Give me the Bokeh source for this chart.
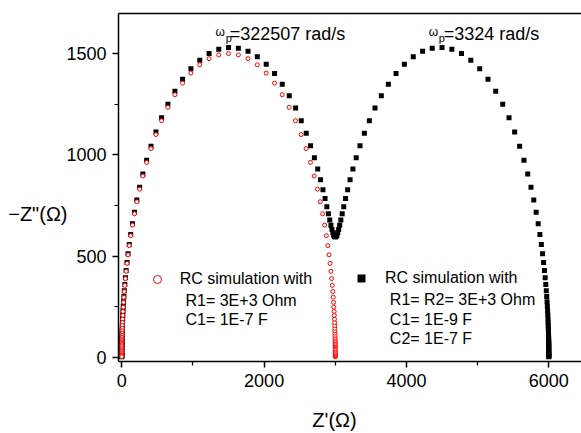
from bokeh.plotting import figure
from bokeh.models import Range1d, FixedTicker, LinearAxis, Label, Legend, LegendItem, ColumnDataSource
from bokeh.embed import file_html
from bokeh.resources import INLINE

# ---- data ----
red_zre = [3000.0, 3000.0, 3000.0, 2999.9, 2999.9, 2999.8, 2999.7, 2999.6, 2999.4, 2999.1,
           2998.9, 2998.7, 2998.4, 2998.1, 2997.7, 2997.3, 2996.7, 2996.0, 2995.3, 2994.3,
           2993.1, 2991.8, 2990.1, 2988.1, 2985.7, 2982.8, 2979.4, 2975.3, 2970.3, 2964.4,
           2957.3, 2948.8, 2938.6, 2926.5, 2912.1, 2894.9, 2874.5, 2850.4, 2821.9, 2788.5,
           2749.3, 2703.6, 2650.6, 2589.6, 2519.8, 2440.8, 2352.2, 2253.7, 2145.8, 2028.9,
           1904.2, 1773.2, 1637.8, 1500.0,
           1362.2, 1226.8, 1095.8, 971.1, 854.2, 746.3, 647.8, 559.2, 480.2, 410.4,
           349.4, 296.4, 250.7, 211.5, 178.1, 149.6, 125.5, 105.1, 87.9, 73.5,
           61.4, 51.2, 42.7, 35.6, 29.7, 24.7, 20.6, 17.2, 14.3, 11.9,
           9.9, 8.2, 6.9, 5.7, 4.7, 3.95, 3.3, 2.7, 2.3, 1.9,
           1.6, 1.3, 1.1, 0.9, 0.6, 0.4, 0.3, 0.2, 0.1, 0.1, 0.0, 0.0, 0.0]
red_zim = [3.0, 4.7, 7.5, 11.9, 17.3, 22.8, 30.0, 36.1, 43.4, 52.1,
           57.1, 62.7, 68.7, 75.3, 82.6, 90.5, 99.2, 108.8, 119.2, 130.7,
           143.3, 157.0, 172.1, 188.5, 206.6, 226.3, 247.8, 271.3, 297.0, 325.0,
           355.5, 388.7, 424.8, 463.8, 506.1, 551.6, 600.6, 653.0, 708.8, 768.0,
           830.3, 895.2, 962.4, 1030.9, 1100.0, 1168.3, 1234.4, 1296.9, 1353.9, 1403.7,
           1444.5, 1474.9, 1493.7, 1500.0,
           1493.7, 1474.9, 1444.5, 1403.7, 1353.9, 1296.9, 1234.4, 1168.3, 1100.0, 1030.9,
           962.4, 895.2, 830.3, 768.0, 708.8, 653.0, 600.6, 551.6, 506.1, 463.8,
           424.8, 388.7, 355.5, 325.0, 297.0, 271.3, 247.8, 226.3, 206.6, 188.5,
           172.1, 157.0, 143.3, 130.7, 119.2, 108.8, 99.2, 90.5, 82.6, 75.3,
           68.7, 62.7, 57.1, 52.1, 43.4, 36.1, 30.0, 22.8, 17.3, 11.9, 7.5, 4.7, 3.0]

black_zre = [6000.0, 6000.0, 6000.0, 6000.0, 5999.9, 5999.8, 5999.7, 5999.6, 5999.4, 5999.1,
             5998.9, 5998.7, 5998.4, 5998.1, 5997.7, 5997.3, 5996.7, 5996.0, 5995.3, 5994.3,
             5993.1, 5991.8, 5990.1, 5988.1, 5985.7, 5982.8, 5979.4, 5975.3, 5970.3, 5964.4,
             5957.3, 5948.8, 5938.6, 5926.5, 5912.1, 5894.9, 5874.5, 5850.4, 5821.9, 5788.5,
             5749.3, 5703.6, 5650.6, 5589.6, 5519.8, 5440.7, 5352.1, 5253.6, 5145.7, 5028.8,
             4904.0, 4773.0, 4637.6, 4499.7,
             4361.8, 4226.4, 4095.3, 3970.5, 3853.5, 3745.4, 3646.7, 3557.9, 3478.6, 3408.5,
             3347.1, 3293.7, 3247.4, 3207.6, 3173.4, 3143.9, 3118.6, 3096.9, 3078.0, 3061.6,
             3047.1, 3034.0, 3022.1, 3010.9, 3000.0, 2989.1, 2977.9, 2966.0, 2952.9, 2938.4,
             2922.0, 2903.1, 2881.4, 2856.1, 2826.6, 2792.4, 2752.6, 2706.3, 2652.9, 2591.5,
             2521.4, 2442.1, 2353.3, 2254.6, 2146.5, 2029.5, 1904.7, 1773.6, 1638.2, 1500.3,
             1362.5, 1227.0, 1096.0, 971.2, 854.3, 746.4, 647.9, 559.3, 480.3, 410.4,
             349.4, 296.4, 250.7, 211.5, 178.1, 149.6, 125.5, 105.1, 87.9, 73.5,
             61.4, 51.2, 42.7, 35.6, 29.7, 24.7, 20.6, 17.2, 14.3, 11.9,
             9.9, 8.2, 6.9, 5.7, 4.7, 3.95, 3.3, 2.7, 2.3, 1.9,
             1.6, 1.3, 1.1, 0.9, 0.6, 0.4, 0.3, 0.2, 0.1, 0.1, 0.0, 0.0, 0.0]
black_zim = [3.0, 4.7, 7.6, 12.0, 17.5, 23.0, 30.3, 36.5, 43.8, 52.6,
             57.7, 63.3, 69.4, 76.1, 83.4, 91.4, 100.2, 109.9, 120.4, 132.0,
             144.7, 158.6, 173.8, 190.4, 208.7, 228.6, 250.3, 274.0, 300.0, 328.3,
             359.1, 392.7, 429.1, 468.5, 511.3, 557.3, 606.9, 659.9, 716.3, 776.3,
             839.4, 905.1, 973.3, 1042.8, 1113.1, 1182.7, 1250.2, 1314.2, 1372.8, 1424.5,
             1467.3, 1499.9, 1521.1, 1530.0,
             1526.6, 1511.0, 1484.0, 1447.1, 1401.4, 1349.0, 1291.5, 1231.0, 1168.7, 1106.2,
             1045.0, 985.7, 929.5, 876.8, 828.0, 783.7, 743.9, 708.6, 678.2, 652.3,
             631.4, 615.0, 603.3, 596.3, 594.0, 596.3, 603.3, 615.0, 631.4, 652.3,
             678.2, 708.6, 743.9, 783.7, 828.0, 876.8, 929.5, 985.7, 1045.0, 1106.2,
             1168.7, 1231.0, 1291.5, 1349.0, 1401.4, 1447.1, 1484.0, 1511.0, 1526.6, 1530.0,
             1521.1, 1499.9, 1467.3, 1424.5, 1372.8, 1314.2, 1250.2, 1182.7, 1113.1, 1042.8,
             973.3, 905.1, 839.4, 776.3, 716.3, 659.9, 606.9, 557.3, 511.3, 468.5,
             429.1, 392.7, 359.1, 328.3, 300.0, 274.0, 250.3, 228.6, 208.7, 190.4,
             173.8, 158.6, 144.7, 132.0, 120.4, 109.9, 100.2, 91.4, 83.4, 76.1,
             69.4, 63.3, 57.7, 52.6, 43.8, 36.5, 30.3, 23.0, 17.5, 12.0, 7.6, 4.7, 3.0]

x_ticks = [0, 2000, 4000, 6000]
x_minor = [1000, 3000, 5000]
y_ticks = [0, 500, 1000, 1500]
y_minor = [250, 750, 1250]

x_title = "Z'(Ω)"
y_title = "\u2212Z\"(Ω)"
red_lines = ["R1= 3E+3 Ohm", "C1= 1E-7 F"]
black_lines = ["R1= R2= 3E+3 Ohm", "C1= 1E-9 F", "C2= 1E-7 F"]
legend_title = "RC simulation with"
wp_left = "=322507 rad/s"
wp_right = "=3324 rad/s"

FONT = "Liberation Sans"

p = figure(width=581, height=433, output_backend="svg", toolbar_location=None,
           x_range=Range1d(-46, 6459), y_range=Range1d(-20.7, 1697.8),
           min_border_left=118, min_border_right=0, min_border_top=13, min_border_bottom=72)
p.grid.visible = False
p.outline_line_color = None
p.background_fill_color = "white"
p.border_fill_color = "white"

for ax, t, m in ((p.xaxis[0], x_ticks, x_minor), (p.yaxis[0], y_ticks, y_minor)):
    ax.ticker = FixedTicker(ticks=t, minor_ticks=m)
    ax.axis_line_width = 1.5
    ax.axis_line_color = "black"
    ax.major_tick_in = 0
    ax.major_tick_out = 6
    ax.minor_tick_in = 0
    ax.minor_tick_out = 4
    ax.major_tick_line_width = 1.5
    ax.minor_tick_line_width = 1.2
    ax.major_tick_line_color = "black"
    ax.minor_tick_line_color = "black"
    ax.major_label_text_font = FONT
    ax.major_label_text_font_size = "18px"
    ax.major_label_text_color = "black"
    ax.major_label_standoff = 6

top = LinearAxis(ticker=FixedTicker(ticks=[]), major_label_text_font_size="0px",
                 major_tick_out=0, major_tick_in=0, minor_tick_out=0, minor_tick_in=0,
                 major_label_standoff=0, axis_line_width=1.5, axis_line_color="black")
p.add_layout(top, "above")

# axis titles drawn as single-label axes (horizontal text)
x_title_pos = 2989
y_title_pos = 710
xt = LinearAxis(ticker=FixedTicker(ticks=[x_title_pos]),
                major_label_overrides={x_title_pos: x_title},
                major_label_text_font=FONT, major_label_text_font_size="20px",
                major_label_text_color="black", major_label_standoff=19,
                major_tick_out=0, major_tick_in=0, minor_tick_out=0, minor_tick_in=0,
                axis_line_color=None)
p.add_layout(xt, "below")
yt = LinearAxis(ticker=FixedTicker(ticks=[y_title_pos]),
                major_label_overrides={y_title_pos: y_title},
                major_label_text_font=FONT, major_label_text_font_size="20px",
                major_label_text_color="black", major_label_standoff=-4,
                major_tick_out=0, major_tick_in=0, minor_tick_out=0, minor_tick_in=0,
                axis_line_color=None)
p.add_layout(yt, "left")

black_src = ColumnDataSource(data=dict(x=black_zre, y=black_zim))
red_src = ColumnDataSource(data=dict(x=red_zre, y=red_zim))
black_r = p.scatter("x", "y", source=black_src, marker="square", size=5,
                    fill_color="black", line_color=None)
red_r = p.scatter("x", "y", source=red_src, marker="circle", size=4,
                  fill_color="white", line_color="red", line_width=1)

def make_legend(r, loc, standoff):
    return Legend(items=[LegendItem(label=legend_title, renderers=[r])], location=loc,
                  padding=0, margin=0, spacing=0, glyph_width=20, glyph_height=20,
                  label_standoff=standoff, label_height=20,
                  label_text_font=FONT, label_text_font_size="16px", label_text_color="black",
                  border_line_color=None, background_fill_alpha=0)

p.add_layout(make_legend(red_r, (28.7, 71.7), 13))
p.add_layout(make_legend(black_r, (233, 73.3), 14))

def lab(x, y, text, size, baseline="middle", align="left"):
    p.add_layout(Label(x=x, y=y, text=text, text_font=FONT, text_font_size=size,
                       text_color="black", text_baseline=baseline, text_align=align))

lab(895, 280.5, red_lines[0], "16px")
lab(895, 185.2, red_lines[1], "16px")
lab(3766, 285.4, black_lines[0], "16px")
lab(3766, 186.7, black_lines[1], "16px")
lab(3766, 91.4, black_lines[2], "16px")

# omega_p annotations
lab(1317, 1604, "ω", "12px", baseline="alphabetic")
lab(1461, 1576, "p", "11px", baseline="alphabetic")
lab(1517, 1597.5, wp_left, "18px", baseline="alphabetic")
lab(4314, 1604, "ω", "12px", baseline="alphabetic")
lab(4454, 1576, "p", "11px", baseline="alphabetic")
lab(4524, 1597.5, wp_right, "18px", baseline="alphabetic")

open("out.html", "w").write(file_html(p, INLINE))
